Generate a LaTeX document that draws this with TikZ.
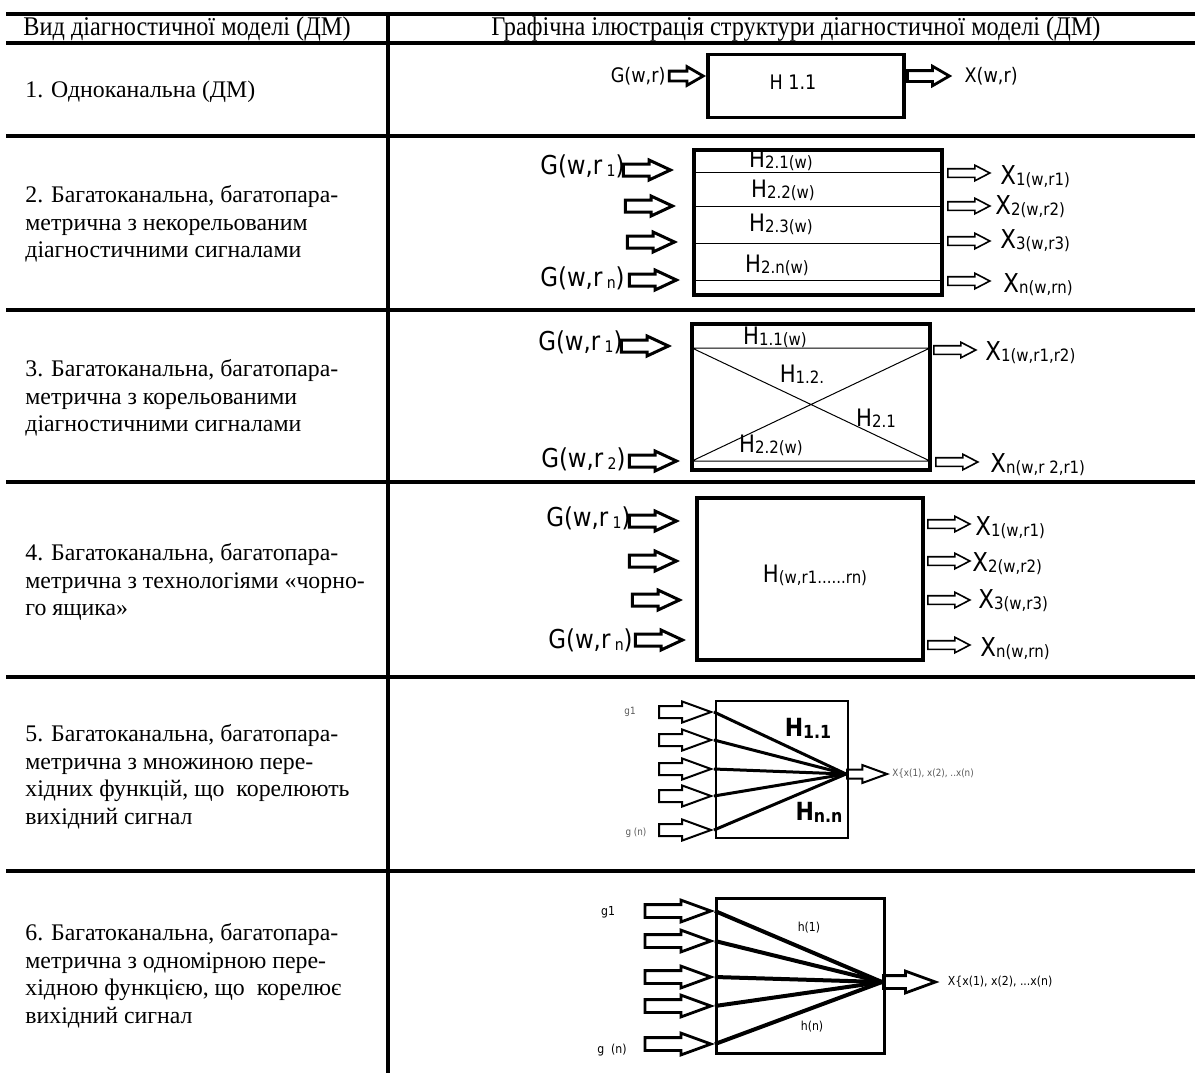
\documentclass[tikz,border=0pt]{standalone}
\usepackage{fontspec}
\setmainfont{Liberation Serif}
\newfontfamily\hdrfont[FakeStretch=0.9]{Liberation Serif}
\newfontfamily\gost[FakeStretch=0.88]{DejaVu Sans}
\usetikzlibrary{positioning,shapes.arrows}

\definecolor{fade}{gray}{0.35}
\newcommand\lo[1]{\raisebox{-0.6pt}{\fontsize{8.5}{8.5}\selectfont #1}}
\newcommand\slo[1]{\,\raisebox{-1pt}{\fontsize{8}{8}\selectfont #1}}

\tikzset{
  grid/.style={line width=1.6pt},
  hdr/.style={inner sep=0pt,font=\hdrfont\fontsize{13.5}{13.5}\selectfont},
  cell/.style={anchor=west,align=left,inner sep=0pt,font=\fontsize{11.9}{13.75}\selectfont},
  box/.style={draw,line width=1.8pt,inner sep=0pt},
  lbl/.style={inner sep=1pt,font=\gost\fontsize{13}{13}\selectfont},
  lblA/.style={inner sep=1pt,font=\gost\fontsize{10}{10}\selectfont},
  tiny/.style={inner sep=1pt,font=\gost\fontsize{6.2}{6.2}\selectfont},
  arrA/.style={single arrow,draw,line width=1.4pt,inner sep=1.75pt,
    single arrow head extend=2.2pt,single arrow tip angle=60,minimum height=#1},
  ain/.style={single arrow,draw,line width=1.5pt,inner sep=2.25pt,
    single arrow head extend=2pt,single arrow tip angle=50,minimum height=23.5pt},
  aout/.style={single arrow,draw,line width=0.8pt,inner sep=1.75pt,
    single arrow head extend=1.75pt,single arrow tip angle=55,minimum height=21pt},
  afan/.style={single arrow,draw,line width=#1,inner sep=2.5pt,
    single arrow head extend=2.25pt,single arrow tip angle=40,minimum height=30pt},
  fan/.style={line width=#1},
}

\begin{document}
\begin{tikzpicture}[x=0.5pt,y=-0.5pt]
\useasboundingbox (0,0) rectangle (1195,1073);

% table
\foreach \y in {14,43,136,310,482,677,871}
  \draw[grid] (6,\y) -- (1195,\y);
\draw[grid] (388,14) -- (388,1073);

\node[hdr] (hl) at (187,29) {Вид діагностичної моделі (ДМ)};
\node[hdr] (hr) at (796,29) {Графічна ілюстрація структури діагностичної моделі (ДМ)};

\node[cell] (t1) at (25,92) {1. Одноканальна (ДМ)};
\node[cell] (t2) at (25,224) {2. Багатоканальна, багатопара-\\метрична з некорельованим\\діагностичними сигналами};
\node[cell] (t3) at (25,398) {3. Багатоканальна, багатопара-\\метрична з корельованими\\діагностичними сигналами};
\node[cell] (t4) at (25,582) {4. Багатоканальна, багатопара-\\метрична з технологіями «чорно-\\го ящика»};
\node[cell] (t5) at (25,777) {5. Багатоканальна, багатопара-\\метрична з множиною пере-\\хідних функцій, що\ \ корелюють\\вихідний сигнал};
\node[cell] (t6) at (25,976) {6. Багатоканальна, багатопара-\\метрична з одномірною пере-\\хідною функцією, що\ \ корелює\\вихідний сигнал};

% row 1
\node[box,minimum width=98pt,minimum height=31.5pt] (b1) at (806,86) {};
\node[lblA] (h1) at (793,82) {H 1.1};
\node[arrA=17pt,anchor=tip] (i1) at (706,76) {};
\node[lblA,anchor=east] (g1) at (i1.tail) {G(w,r)};
\node[arrA=21pt,inner sep=2pt,anchor=tail] (o1) at (906,76) {};
\node[lblA,anchor=west] (x1) at ([xshift=5pt]o1.tip) {X(w,r)};

% row 2
\node[box,minimum width=124pt,minimum height=72.5pt] (b2) at (818,222.5) {};
\foreach \y in {172,206,243,280}
  \draw[line width=0.5pt] (b2.west |- 0,\y) -- (b2.east |- 0,\y);
\node[lbl,font=\gost\fontsize{12}{12}\selectfont] (h21) at (781,160) {H\lo{2.1(w)}};
\node[lbl,font=\gost\fontsize{12}{12}\selectfont] (h22) at (783,190) {H\lo{2.2(w)}};
\node[lbl,font=\gost\fontsize{12}{12}\selectfont] (h23) at (781,224) {H\lo{2.3(w)}};
\node[lbl,font=\gost\fontsize{12}{12}\selectfont] (h2n) at (777,265) {H\lo{2.n(w)}};
\foreach \y/\x [count=\i] in {170/674,206/676,242/678,280/680}
  \node[ain,anchor=tip] (i2\i) at (\x,\y) {};
\node[lbl,anchor=east] (g21) at (627,166) {G(w,r\slo{1})};
\node[lbl,anchor=east] (g2n) at (627,278) {G(w,r\slo{n})};
\foreach \y [count=\i] in {173,206,241,281}
  \node[aout,anchor=tail] (o2\i) at (947,\y) {};
\node[lbl,anchor=west] (x21) at (998,177) {X\lo{1(w,r1)}};
\node[lbl,anchor=west] (x22) at (993,207) {X\lo{2(w,r2)}};
\node[lbl,anchor=west] (x23) at (998,241) {X\lo{3(w,r3)}};
\node[lbl,anchor=west] (x2n) at (1001,285) {X\lo{n(w,rn)}};

% row 3
\node[box,minimum width=119pt,minimum height=73pt] (b3) at (811,397) {};
\coordinate (p3a) at (692,348);
\coordinate (p3b) at (930,348);
\coordinate (p3c) at (692,461);
\coordinate (p3d) at (930,461);
\draw[line width=0.5pt] (p3a) -- (p3b) (p3c) -- (p3d) (p3a) -- (p3d) (p3c) -- (p3b);
\node[lbl,font=\gost\fontsize{12}{12}\selectfont] (h31) at (775,337) {H\lo{1.1(w)}};
\node[lbl,font=\gost\fontsize{12}{12}\selectfont] (h32) at (802,374) {H\lo{1.2.}};
\node[lbl,font=\gost\fontsize{12}{12}\selectfont] (h33) at (876,418) {H\lo{2.1}};
\node[lbl,font=\gost\fontsize{12}{12}\selectfont] (h34) at (771,445) {H\lo{2.2(w)}};
\node[ain,anchor=tip] (i31) at (672,346) {};
\node[ain,anchor=tip] (i32) at (680,461) {};
\node[lbl,anchor=east] (g31) at (625,342) {G(w,r\slo{1})};
\node[lbl,anchor=east] (g32) at (628,459) {G(w,r\slo{2})};
\node[aout,anchor=tail] (o31) at (933,350) {};
\node[aout,anchor=tail] (o32) at (935,462) {};
\node[lbl,anchor=west] (x31) at (983,353) {X\lo{1(w,r1,r2)}};
\node[lbl,anchor=west] (x32) at (988,465) {X\lo{n(w,r 2,r1)}};

% row 4
\node[box,minimum width=113pt,minimum height=81pt] (b4) at (810,579) {};
\node[lbl,font=\gost\fontsize{12}{12}\selectfont] (h4) at (815,575) {H\lo{(w,r1......rn)}};
\foreach \y/\x [count=\i] in {521/680,561/680,600/683,640/686}
  \node[ain,anchor=tip] (i4\i) at (\x,\y) {};
\node[lbl,anchor=east] (g41) at (633,518) {G(w,r\slo{1})};
\node[lbl,anchor=east] (g4n) at (635,640) {G(w,r\slo{n})};
\foreach \y [count=\i] in {524,561,600,645}
  \node[aout,anchor=tail] (o4\i) at (927,\y) {};
\node[lbl,anchor=west] (x41) at (973,528) {X\lo{1(w,r1)}};
\node[lbl,anchor=west] (x42) at (970,564) {X\lo{2(w,r2)}};
\node[lbl,anchor=west] (x43) at (976,601) {X\lo{3(w,r3)}};
\node[lbl,anchor=west] (x4n) at (978,649) {X\lo{n(w,rn)}};

% row 5
\node[box,line width=1pt,minimum width=66pt,minimum height=68.5pt] (b5) at (782,769.5) {};
\coordinate (f5) at (846,774);
\foreach \y [count=\i] in {712,740,769,796,830} {
  \node[afan=1pt,minimum height=26pt,anchor=tip] (i5\i) at (714,\y) {};
  \draw[fan=1.5pt] (i5\i.tip) -- (f5);
}
\node[afan=1pt,minimum height=20pt,inner sep=1.75pt,anchor=tail] (o5) at (f5) {};
\node[tiny,text=fade,font=\gost\fontsize{5}{5}\selectfont] (g51) at (630,712) {g1};
\node[tiny,text=fade,font=\gost\fontsize{5}{5}\selectfont] (g5n) at (636,833) {g (n)};
\node[tiny,text=fade,font=\gost\fontsize{5}{5}\selectfont,anchor=west] (x5) at (o5.tip) {X{\{}x(1), x(2), ..x(n)};
\node[inner sep=0pt,font=\gost\bfseries\fontsize{12.5}{12.5}\selectfont] (h51) at (808,728) {H\raisebox{-1pt}{\fontsize{9}{9}\selectfont 1.1}};
\node[inner sep=0pt,font=\gost\bfseries\fontsize{12.5}{12.5}\selectfont] (h5n) at (819,812) {H\raisebox{-1pt}{\fontsize{9}{9}\selectfont n.n}};

% row 6
\node[box,line width=1.5pt,minimum width=84pt,minimum height=77.5pt] (b6) at (800,975.5) {};
\coordinate (f6) at (882,982);
\foreach \y [count=\i] in {911,941,977,1006,1044} {
  \node[afan=1.4pt,minimum height=33pt,anchor=tip] (i6\i) at (715,\y) {};
  \draw[fan=2pt] (i6\i.tip) -- (f6);
}
\node[afan=1.4pt,minimum height=26pt,anchor=tail] (o6) at (f6) {};
\node[tiny] (g61) at (608,912) {g1};
\node[tiny] (g6n) at (612,1050) {g\ \ (n)};
\node[tiny] (h61) at (809,928) {h(1)};
\node[tiny] (h6n) at (812,1027) {h(n)};
\node[tiny,anchor=west] (x6) at ([xshift=3pt]o6.tip) {X{\{}x(1), x(2), ...x(n)};

\end{tikzpicture}
\end{document}
